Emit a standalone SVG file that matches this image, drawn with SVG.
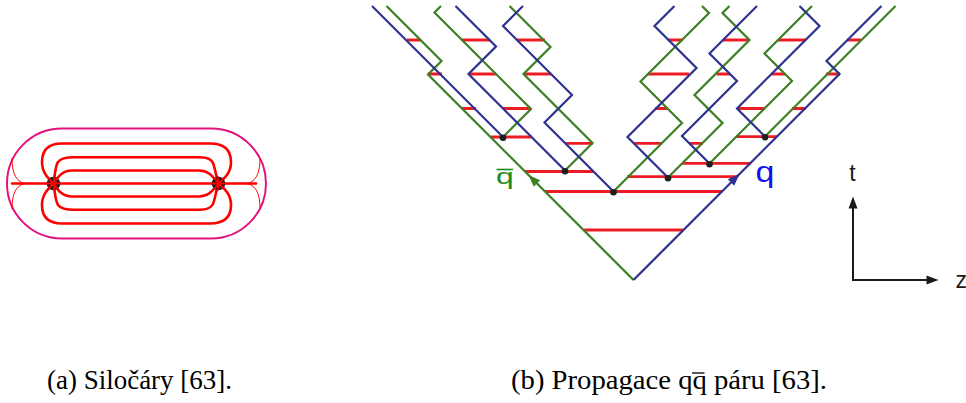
<svg xmlns="http://www.w3.org/2000/svg" xmlns:xlink="http://www.w3.org/1999/xlink" width="966" height="403" viewBox="0 0 966 403">
  <style>
    .wl{fill:none;stroke-width:2.2;stroke-linejoin:miter;stroke-miterlimit:10}
    .quark{stroke:#2e3192}
    .anti{stroke:#3d7f24}
    .string{fill:none;stroke:#ed1c24;stroke-width:2.8}
    .vertex{fill:#1e1e1e}
    .field{fill:none;stroke:#ff0000;stroke-width:2.6;stroke-linecap:round;stroke-linejoin:round}
    .fieldThin{fill:none;stroke:#ff0000;stroke-width:1}
    .spoke{fill:none;stroke:#ff0000;stroke-width:1.8;stroke-linecap:round}
    .bag{fill:none;stroke:#e3127f;stroke-width:2}
    .charge{fill:#1e1e1e}
    .axis{fill:none;stroke:#1a1a1a;stroke-width:2}
    .lab{font-family:"Liberation Sans",Arial,sans-serif}
    .cap{font-family:"Liberation Serif","Times New Roman",serif;font-size:26.5px;fill:#000}
  </style>
  <defs>
    <!-- arrowhead pointing along +x, tip at origin -->
    <path id="ah" d="M0,0 L-12,-4.5 L-12,4.5 Z"/>
    <!-- upper half of the field-line loops between the two charges -->
    <g id="loops">
      <path d="M53.5,183.5 C47,177 42,172 42,162 C42,150 48,143.5 62,143.5 L210,143.5 C224,143.5 231,150 231,162 C231,172 226,177 218.5,183.5"/>
      <path d="M53.5,183.5 C55,175 55,167 58,162 C61,158 66,157.3 74,157.3 L200,157.3 C207,157.3 211,159 213,163 C215,168 216,176 218.5,183.5"/>
      <path d="M53.5,183.5 C58,177 62,170.5 72,170.5 L199,170.5 C209,170.5 213,177 218.5,183.5"/>
    </g>
    <g id="ends">
      <path d="M28,183.5 C19,183.5 12,178 12,158"/>
      <path d="M244,183.5 C253,183.5 260,178 260,158"/>
    </g>
    <!-- field lines leaving a charge, drawn over its dark core -->
    <path id="spokes" d="M-7,0 H7 M0,0 L-5,-5 M0,0 L-5,5 M0,0 L0.8,-7 M0,0 L0.8,7 M0,0 L4.2,-5.6 M0,0 L4.2,5.6"/>
  </defs>

  <rect width="966" height="403" fill="#fff"/>

  <!-- (a) field lines confined in a bag -->
  <g id="panel-a">
    <rect id="bag" class="bag" x="7" y="128.5" width="259" height="110" rx="55" ry="55"/>
    <g id="thin-lines" class="fieldThin">
      <use xlink:href="#ends"/>
      <use xlink:href="#ends" transform="matrix(1,0,0,-1,0,367)"/>
    </g>
    <g id="field-lines" class="field">
      <path d="M12,183.5 H256"/>
      <use xlink:href="#loops"/>
      <use xlink:href="#loops" transform="matrix(1,0,0,-1,0,367)"/>
    </g>
    <g id="charge-left">
      <circle class="charge" cx="53.5" cy="183.5" r="6.8"/>
      <use xlink:href="#spokes" class="spoke" transform="translate(53.5,183.5)"/>
    </g>
    <g id="charge-right">
      <circle class="charge" cx="218.5" cy="183.5" r="6.8"/>
      <use xlink:href="#spokes" class="spoke" transform="translate(218.5,183.5) scale(-1,1)"/>
    </g>
  </g>

  <!-- (b) space-time picture of the string breaking -->
  <g id="panel-b">
    <g id="strings">
      <path class="string" d="M407,40H421 M462,40H490 M517,40H545 M668,40H682.5 M723,40H750 M778,40H806 M847,40H861
        M428,74H442 M469,74H496 M524,74H551 M648,74H689 M716.5,74H730 M771.5,74H785 M826,74H840
        M462,108.5H476 M503,108.5H531 M655,108.5H668 M737,108.5H765 M792,108.5H806
        M491,137H532 M565,143.3H593 M634,143.3H662 M689,143.3H703 M736,136.7H777
        M682,163.3H751 M525,171.5H593.5 M627,176.7H737.5 M545,191.5H722 M584,230H683"/>
    </g>
    <g id="antiquarks" class="wl anti">
      <path d="M633.5,280 L428,74.5 L441.5,61 L386.5,6"/>
      <path d="M503,137 L531,109 L434.5,12.5 L441,6"/>
      <path d="M565,170.5 L592.5,143 L523.5,74 L550.5,47 L509.5,6"/>
      <path d="M613.5,191.5 L682,123 L640.5,81.5 L709,13 L702,6"/>
      <path d="M668,177.5 L722.5,123 L694.5,95 L749.5,40 L722.5,13 L729.5,6"/>
      <path d="M709.5,163.5 L792,81 L764.5,53.5 L812,6"/>
      <path d="M765,136.5 L895.5,6"/>
    </g>
    <g id="quarks" class="wl quark">
      <path d="M503,137 L372,6"/>
      <path d="M565,170.5 L468.5,74 L496,46.5 L455.5,6"/>
      <path d="M613.5,191.5 L544.5,122.5 L572,95 L503,26 L523,6"/>
      <path d="M668,177.5 L627.5,137 L696.5,68 L654.5,26 L674.5,6"/>
      <path d="M709.5,163.5 L682,136 L737,81 L709.5,53.5 L757,6"/>
      <path d="M765,136.5 L737,108.5 L819.5,26 L799.5,6"/>
      <path d="M633.5,280 L839.5,74 L826.5,61 L881.5,6"/>
    </g>
    <g id="breaks">
      <circle class="vertex" cx="503" cy="137.8" r="3.3"/>
      <circle class="vertex" cx="565" cy="171.3" r="3.3"/>
      <circle class="vertex" cx="613.5" cy="192.3" r="3.3"/>
      <circle class="vertex" cx="668" cy="178.3" r="3.3"/>
      <circle class="vertex" cx="709.5" cy="164.3" r="3.3"/>
      <circle class="vertex" cx="765" cy="137.3" r="3.3"/>
    </g>
    <g id="directions">
      <use xlink:href="#ah" fill="#3d7f24" transform="translate(528.5,175) rotate(-135)"/>
      <use xlink:href="#ah" fill="#2e3192" transform="translate(739.5,174) rotate(-45)"/>
    </g>
    <g id="label-qbar">
      <text class="lab" transform="translate(496,184) scale(1.45,1)" font-size="22" fill="#1e8c1e">q</text>
      <path d="M496.5,169.5 H513" stroke="#1e8c1e" stroke-width="1.6"/>
    </g>
    <g id="label-q">
      <text class="lab" transform="translate(755.5,181.8) scale(1.17,1)" font-size="29" fill="#1010f0">q</text>
    </g>
    <g id="axes">
      <path class="axis" d="M853,281 V206 M852,280 H929"/>
      <use xlink:href="#ah" fill="#1a1a1a" transform="translate(853,196.5) rotate(-90)"/>
      <use xlink:href="#ah" fill="#1a1a1a" transform="translate(938.5,280)"/>
      <text class="lab" x="852.5" y="181" font-size="23" text-anchor="middle" fill="#1a1a1a">t</text>
      <text class="lab" x="955.5" y="287.5" font-size="23" fill="#1a1a1a">z</text>
    </g>
  </g>

  <g id="captions">
    <text class="cap" x="47" y="389" textLength="185" lengthAdjust="spacingAndGlyphs">(a) Siločáry [63].</text>
    <text class="cap" x="511" y="389" textLength="316" lengthAdjust="spacingAndGlyphs">(b) Propagace qq páru [63].</text>
    <path d="M692,373 H704.5" stroke="#000" stroke-width="1.3"/>
  </g>
</svg>
